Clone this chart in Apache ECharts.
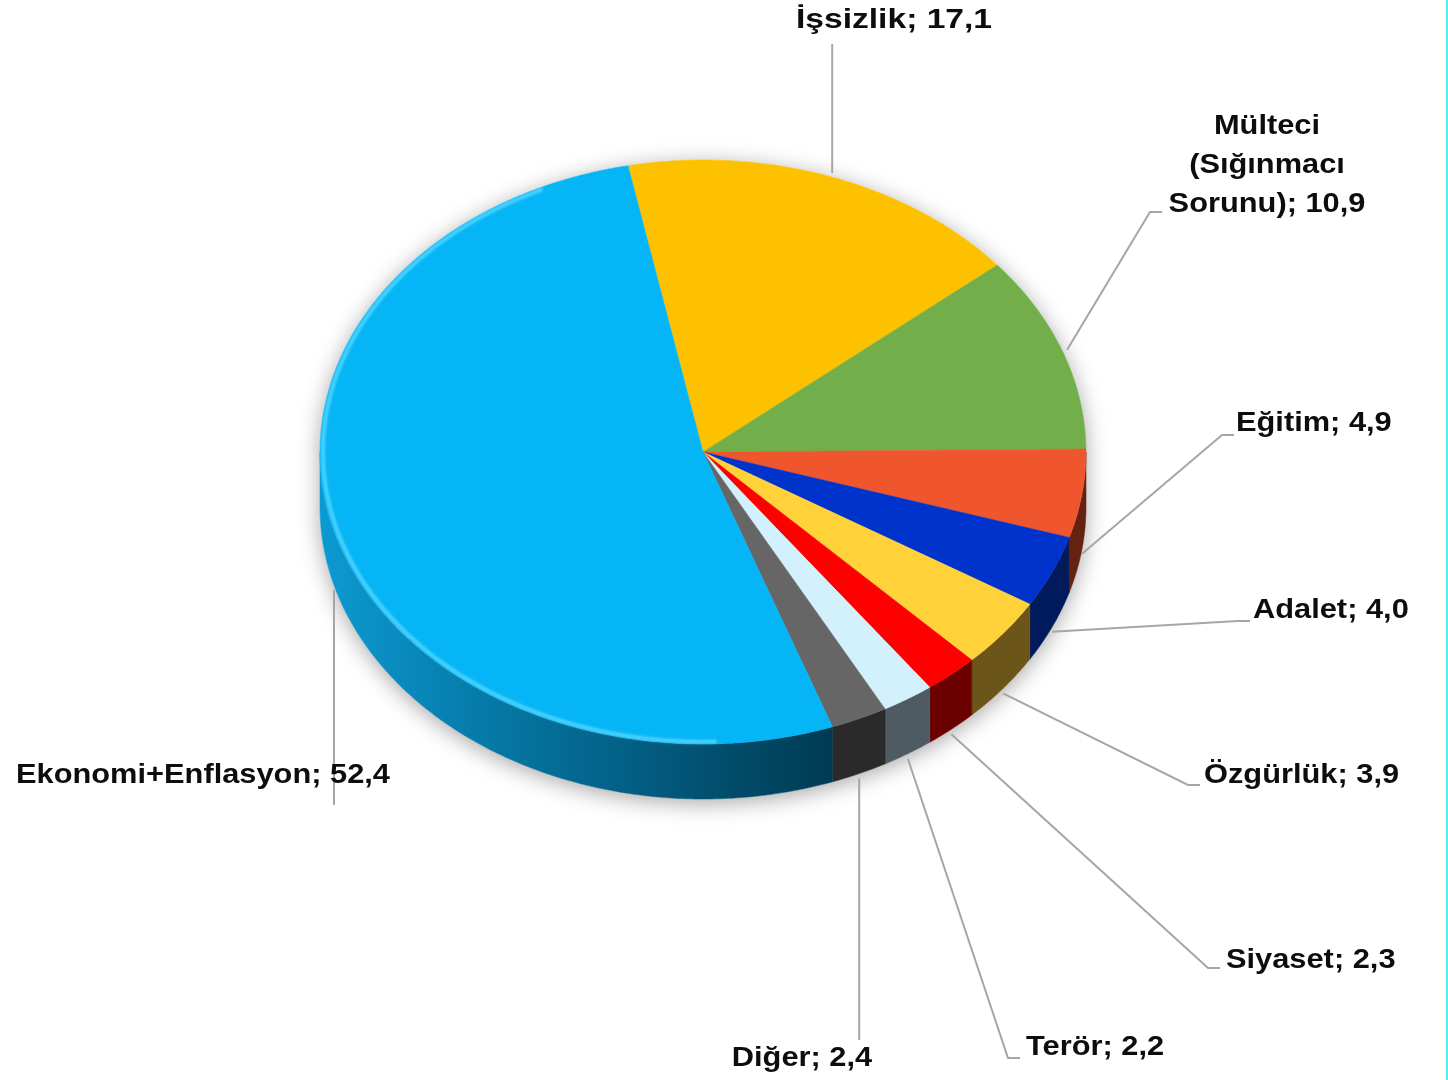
<!DOCTYPE html>
<html><head><meta charset="utf-8">
<script src="https://cdn.jsdelivr.net/npm/echarts@6/dist/echarts.min.js"></script>
<style>
html,body{margin:0;padding:0;background:#fff;overflow:hidden;}
#c{width:1446px;height:1080px;border-right:2px solid #55EEF2;}
</style></head><body><div id="c"></div>
<script>
// ---- data ----
const categories = ['İşsizlik', 'Mülteci\n(Sığınmacı\nSorunu)', 'Eğitim', 'Adalet', 'Özgürlük', 'Siyaset', 'Terör', 'Diğer', 'Ekonomi+Enflasyon'];
const values = [17.1, 10.9, 4.9, 4.0, 3.9, 2.3, 2.2, 2.4, 52.4];

// ---- styles ----
const topColors = ['#FDC100', '#72AF4B', '#F0562E', '#0033CC', '#FFD23A', '#FF0000', '#D2F1FC', '#666666', '#05B5F5'];
const sideColors = ['#7E6100', '#39582A', '#64220F', '#001A5C', '#6B5518', '#6B0000', '#4E5B62', '#2A2A2A', null];

// ---- layout (pie geometry + label placement) ----
const CX = 703, CY = 452, RX = 383, RY = 292, DEPTH = 55, START = -101.3;
// label: [x, y, align, leaderType, p1x, p1y, textScaleX]
const labelLayout = [
  [894, 20, 'center', 'v', null, 44, 1.2],
  [1267, 165, 'center', 'e', 1150, 212, 1.1],
  [1236, 423, 'left', 'e', 1222, 435, 1.1],
  [1253, 610, 'left', 'e', 1238, 621, 1.1],
  [1204, 775, 'left', 'e', 1188, 785, 1.1],
  [1226, 960, 'left', 'e', 1208, 968, 1.1],
  [1026, 1047, 'left', 'e', 1008, 1058, 1.1],
  [802, 1058, 'center', 'v', null, 1040, 1.1],
  [16, 775, 'left', 'v', null, 805, 1.1]
];

const total = values.reduce((a, b) => a + b, 0);
const cum = []; let acc = 0; values.forEach(v => { cum.push(acc); acc += v; });
const fmt = v => v.toFixed(1).replace('.', ',');

function pt(t, dy, dr) {
  const r = t * Math.PI / 180;
  return [CX + (RX + dr) * Math.cos(r), CY + dy + (RY + dr * RY / RX) * Math.sin(r)];
}
function arc(a, b, dy, dr) {
  const pts = []; const n = Math.max(2, Math.ceil(Math.abs(b - a) / 0.5));
  for (let i = 0; i <= n; i++) pts.push(pt(a + (b - a) * i / n, dy, dr));
  return pts;
}
const FONT = 'bold 28px "Liberation Sans", Arial, sans-serif';

function renderShadow() {
  const pts = arc(180, 360, 0, 0).concat(arc(0, 180, DEPTH, 0));
  return { type: 'polygon', shape: { points: pts },
    style: { fill: '#ffffff', shadowBlur: 22, shadowColor: 'rgba(0,0,0,0.35)', shadowOffsetX: 0, shadowOffsetY: 4 } };
}

function renderSlice(params, api) {
  const i = params.dataIndex; const v = api.value(0);
  const a = START + cum[i] / total * 360, b = a + v / total * 360;
  const children = [];
  const s = Math.max(a, 0), e = Math.min(b, 180);
  if (e > s) {
    let fill = sideColors[i];
    if (!fill) {
      fill = new echarts.graphic.LinearGradient(pt(180, 0, 0)[0], 0, pt(s, 0, 0)[0], 0, [
        { offset: 0, color: '#0C9AD2' }, { offset: 0.45, color: '#046D98' }, { offset: 1, color: '#003A52' }], true);
    }
    const pts = arc(s, e, 0, 0).concat(arc(e, s, DEPTH, 0));
    children.push({ type: 'polygon', shape: { points: pts }, style: { fill: fill, stroke: fill, lineWidth: 0.5 } });
  }
  children.push({ type: 'polygon', shape: { points: [[CX, CY]].concat(arc(a, b, 0, 0)) },
    style: { fill: topColors[i], stroke: topColors[i], lineWidth: 0.5 } });
  if (i === values.length - 1) {
    children.push({ type: 'polyline', shape: { points: arc(Math.max(a, 88), Math.min(b, 245), 0, -3) },
      style: { fill: null, stroke: '#3DCFFF', lineWidth: 3, opacity: 0.75, shadowBlur: 3, shadowColor: '#7FE3FF' } });
  }
  // leader
  const m = (a + b) / 2;
  const front = Math.sin(m * Math.PI / 180) > 0;
  const st = front ? pt(m, DEPTH + 5, 0) : pt(m, 0, 5);
  const L = labelLayout[i];
  let lpts;
  if (L[3] === 'v') lpts = [st, [st[0], L[5]]];
  else lpts = [st, [L[4], L[5]], [L[4] + 12, L[5]]];
  children.push({ type: 'polyline', shape: { points: lpts }, style: { fill: null, stroke: '#A6A6A6', lineWidth: 2 } });
  children.push({ type: 'text', x: L[0], y: L[1], scaleX: L[6], scaleY: 1,
    style: { text: categories[i] + '; ' + fmt(v), font: FONT, fill: '#0D0D0D', align: L[2], verticalAlign: 'middle', lineHeight: 39 } });
  return { type: 'group', children: children };
}

const chart = echarts.init(document.getElementById('c'), null, { renderer: 'canvas' });
chart.setOption({
  backgroundColor: '#ffffff',
  animation: false,
  series: [
    { type: 'custom', coordinateSystem: 'none', data: [total], renderItem: renderShadow, silent: true },
    { type: 'custom', coordinateSystem: 'none', data: values, renderItem: renderSlice, silent: true }
  ]
});
</script></body></html>
